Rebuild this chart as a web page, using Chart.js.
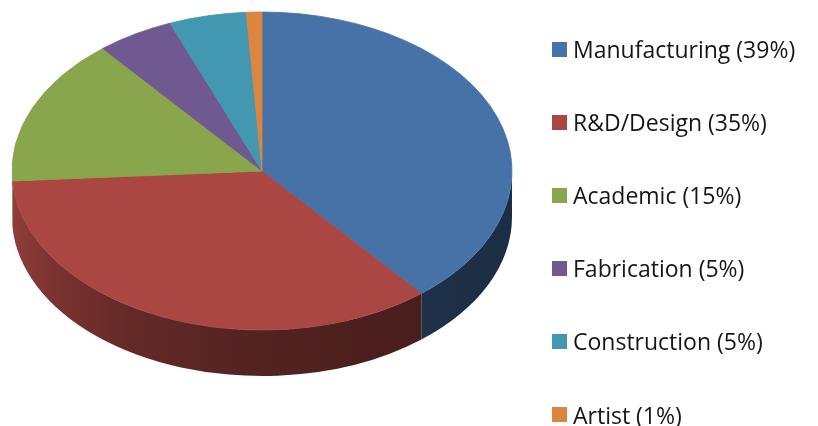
<!DOCTYPE html>
<html>
<head>
<meta charset="utf-8">
<title>Employment by sector</title>
<script src="https://cdn.jsdelivr.net/npm/chart.js@4/dist/chart.umd.min.js"></script>
<style>
  html, body { margin: 0; padding: 0; background: #fff; }
  #wrap { position: relative; width: 818px; height: 426px; overflow: hidden; }
  #pie { position: absolute; left: 0; top: 0; }
  #legend {
    position: absolute; left: 552px; top: 0; margin: 0; padding: 0; list-style: none;
    font-family: "Open Sans", sans-serif; font-size: 23px; color: #161616;
  }
  #legend li {
    position: absolute; left: 0; height: 30px; display: flex; align-items: center; white-space: nowrap;
  }
  #legend .sw { width: 15px; height: 15px; margin-right: 6px; flex: none; }
</style>
</head>
<body>
<div id="wrap">
  <canvas id="pie" width="818" height="426"></canvas>
  <ul id="legend"></ul>
</div>
<script>
// Sector shares (percent)
const categories = ['Manufacturing', 'R&D/Design', 'Academic', 'Fabrication', 'Construction', 'Artist'];
const shares = [39, 35, 15, 5, 5, 1];
const sliceColors = ['#4672a8', '#aa4743', '#89a64d', '#705891', '#4298b0', '#dc853e'];

// Tilted-disc look: the top face is squashed vertically, the rim hangs below it.
const TILT = 0.636;
const DEPTH = 46;
// rim shading across the width of the disc: [position, brightness]
const RIM_SHADE = [[0, 0.86], [0.08, 0.72], [0.25, 0.58], [0.45, 0.5], [0.7, 0.44], [1, 0.4]];

function shade(hex, f) {
  const n = parseInt(hex.slice(1), 16);
  const r = Math.round(((n >> 16) & 255) * f);
  const g = Math.round(((n >> 8) & 255) * f);
  const b = Math.round((n & 255) * f);
  return `rgb(${r},${g},${b})`;
}

const tiltPlugin = {
  id: 'tilt3d',
  beforeDatasetsDraw(chart) {
    const arcs = chart.getDatasetMeta(0).data;
    this._tilted = false;
    if (!arcs.length) return;
    const ctx = chart.ctx;
    const { x: cx, y: cy, outerRadius: rx } = arcs[0].getProps(['x', 'y', 'outerRadius'], true);
    const ry = rx * TILT;
    const colors = chart.data.datasets[0].backgroundColor;

    // front rim: only the half of the circle facing the viewer (0..PI) shows
    arcs.forEach((arc, i) => {
      const { startAngle, endAngle } = arc.getProps(['startAngle', 'endAngle'], true);
      const a = Math.max(startAngle, 0);
      const b = Math.min(endAngle, Math.PI);
      if (b <= a) return;
      const grad = ctx.createLinearGradient(cx - rx, 0, cx + rx, 0);
      RIM_SHADE.forEach(([t, f]) => grad.addColorStop(t, shade(colors[i], f)));
      ctx.beginPath();
      ctx.ellipse(cx, cy, rx, ry, 0, a, b, false);
      ctx.ellipse(cx, cy + DEPTH, rx, ry, 0, b, a, true);
      ctx.closePath();
      ctx.fillStyle = grad;
      ctx.fill();
    });

    // squash the top face around the pie centre
    ctx.save();
    ctx.translate(cx, cy);
    ctx.scale(1, TILT);
    ctx.translate(-cx, -cy);
    this._tilted = true;
  },
  afterDatasetsDraw(chart) {
    if (this._tilted) chart.ctx.restore();
    this._tilted = false;
  }
};

const chart = new Chart(document.getElementById('pie'), {
  type: 'pie',
  data: {
    labels: categories,
    datasets: [{
      data: shares,
      backgroundColor: sliceColors,
      borderColor: sliceColors,
      borderWidth: 1,
      radius: 250,
      clip: false
    }]
  },
  options: {
    responsive: false,
    animation: false,
    events: [],
    layout: { padding: { left: 0, top: 0, right: 294, bottom: 84 } },
    plugins: {
      legend: { display: false },
      tooltip: { enabled: false }
    }
  },
  plugins: [tiltPlugin]
});

// Legend on the right, one row per sector
const ROW_FIRST = 49;
const ROW_STEP = 73.1;
const legendEl = document.getElementById('legend');
categories.forEach((name, i) => {
  const li = document.createElement('li');
  li.style.top = (ROW_FIRST + ROW_STEP * i - 15) + 'px';
  const sw = document.createElement('span');
  sw.className = 'sw';
  sw.style.background = sliceColors[i];
  const txt = document.createElement('span');
  txt.textContent = `${name} (${shares[i]}%)`;
  li.appendChild(sw);
  li.appendChild(txt);
  legendEl.appendChild(li);
});
</script>
</body>
</html>
